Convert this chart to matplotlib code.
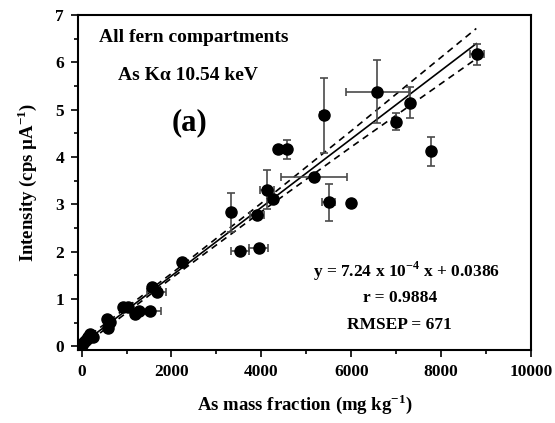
import numpy as np
import matplotlib
matplotlib.use('Agg')
import matplotlib.pyplot as plt
from matplotlib.ticker import MultipleLocator

plt.rcParams['font.family'] = ['Liberation Serif', 'DejaVu Serif']
plt.rcParams['font.weight'] = 'bold'
plt.rcParams['mathtext.fontset'] = 'custom'
plt.rcParams['mathtext.rm'] = 'Liberation Serif:bold'

# points with no error bars
x_plain = [5, 37, 74, 111, 148, 185, 258, 555, 592, 630, 911, 1037, 1185, 1274,
           1556, 2244, 4259, 6000]
y_plain = [0.02, 0.07, 0.11, 0.16, 0.20, 0.25, 0.20, 0.57, 0.39, 0.51, 0.83, 0.83,
           0.69, 0.75, 1.25, 1.77, 3.12, 3.02]

# points with error bars (x, y, x error, y error)
x_err_pts = [1533, 1667, 3333, 3518, 3903, 3940, 4125, 4370, 4560, 5169, 5384,
             5496, 6578, 6984, 7311, 7778, 8791]
y_err_pts = [0.75, 1.15, 2.83, 2.01, 2.78, 2.08, 3.31, 4.16, 4.16, 3.57, 4.88,
             3.04, 5.38, 4.74, 5.15, 4.12, 6.17]
xerr = [240, 210, 0, 200, 150, 210, 150, 0, 0, 740, 70, 150, 700, 0, 0, 0, 150]
yerr = [0, 0, 0.41, 0, 0.05, 0, 0.41, 0, 0.20, 0, 0.79, 0.39, 0.66, 0.18, 0.33, 0.31, 0.22]

# fit and confidence band
slope = 7.24e-4
intercept = 0.0386
band_x = [0, 2000, 4000, 6000, 8780]
band_hw = [0.06, 0.05, 0.09, 0.17, 0.32]

fig = plt.figure(figsize=(5.55, 4.23), dpi=100)
ax = fig.add_axes([0.1405, 0.1726, 0.8165, 0.7919])

ax.errorbar(x_err_pts, y_err_pts, xerr=xerr, yerr=yerr, fmt='none',
            ecolor='#4a4a4a', elinewidth=1.2, capsize=3, capthick=1.2, zorder=2)
ax.plot(x_plain + x_err_pts, y_plain + y_err_pts, 'o', color='black', ms=8, zorder=3)

fx = np.array(band_x, dtype=float)
fy = slope * fx + intercept
ax.plot(fx, fy, color='black', lw=1.2, zorder=1)
ax.plot(fx, fy + np.array(band_hw), color='black', lw=1.2, ls=(0, (4, 3)), zorder=1)
ax.plot(fx, fy - np.array(band_hw), color='black', lw=1.2, ls=(0, (4, 3)), zorder=1)

ax.set_xlim(-80, 10000)
ax.set_ylim(-0.08, 7)
ax.xaxis.set_major_locator(MultipleLocator(2000))
ax.xaxis.set_minor_locator(MultipleLocator(1000))
ax.yaxis.set_major_locator(MultipleLocator(1))
ax.yaxis.set_minor_locator(MultipleLocator(0.5))
ax.tick_params(which='both', direction='out', top=False, right=False, width=1.2)
ax.tick_params(which='major', length=5, labelsize=12.5, pad=5)
ax.tick_params(which='minor', length=3)
for s in ax.spines.values():
    s.set_linewidth(1.5)
for lab in ax.get_xticklabels() + ax.get_yticklabels():
    lab.set_fontweight('bold')

ax.set_xlabel('As mass fraction (mg kg$^{-1}$)', fontsize=13.5, fontweight='bold', labelpad=9)
ax.set_ylabel('Intensity (cps µA$^{-1}$)', fontsize=13.5, fontweight='bold', labelpad=12)

ax.text(0.046, 0.932, 'All fern compartments', transform=ax.transAxes,
        fontsize=14, fontweight='bold', va='center')
ax.text(0.088, 0.818, 'As Kα 10.54 keV', transform=ax.transAxes,
        fontsize=14, fontweight='bold', va='center')
ax.text(0.2075, 0.678, '(a)', transform=ax.transAxes,
        fontsize=22, fontweight='bold', va='center')
ax.text(0.725, 0.234, 'y = 7.24 x 10$^{-4}$ x + 0.0386', transform=ax.transAxes,
        fontsize=12.5, fontweight='bold', ha='center', va='center')
ax.text(0.71, 0.155, 'r = 0.9884', transform=ax.transAxes,
        fontsize=12.5, fontweight='bold', ha='center', va='center')
ax.text(0.71, 0.075, 'RMSEP = 671', transform=ax.transAxes,
        fontsize=12.5, fontweight='bold', ha='center', va='center')

fig.savefig('out.png', dpi=100)
